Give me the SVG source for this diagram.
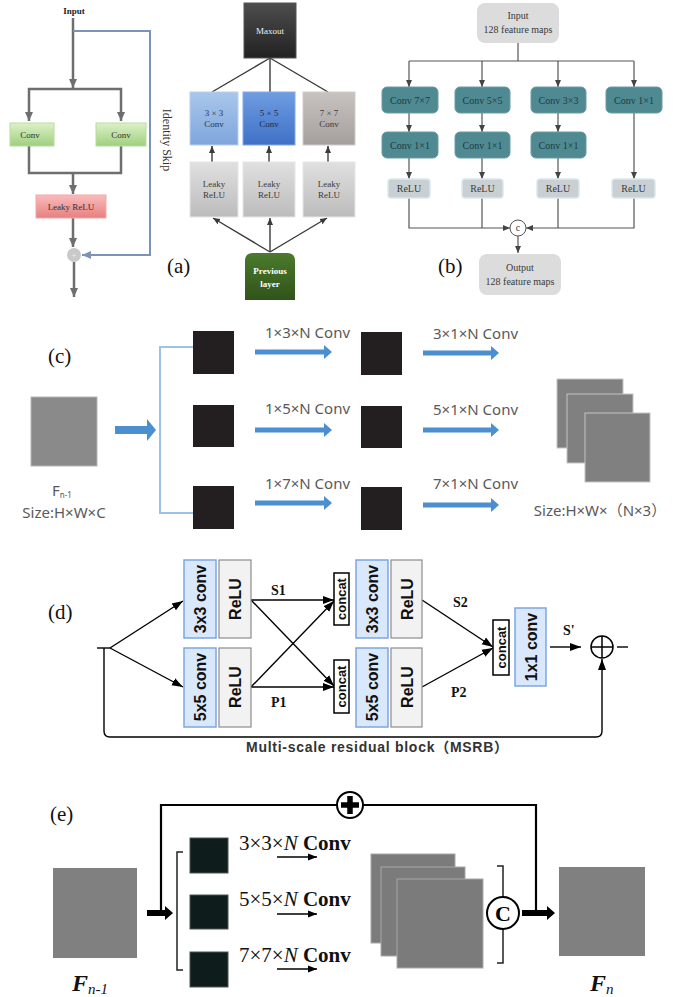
<svg xmlns="http://www.w3.org/2000/svg" width="693" height="997" viewBox="0 0 693 997">
<defs>
<style>
.serif{font-family:"Liberation Serif","Times New Roman",serif}
.sans{font-family:"Liberation Sans",Arial,sans-serif}
.cjk{font-family:"Liberation Sans","Noto Sans CJK SC",sans-serif}
.lbl{font-family:"Liberation Serif","Times New Roman",serif;font-size:21px;fill:#111}
.gl{stroke:#6e6e6e;stroke-width:2.5;fill:none}
.al{stroke:#3a3a3a;stroke-width:1.4;fill:none}
.bl{stroke:#555;stroke-width:1.2;fill:none}
.t9{font-family:"Liberation Serif","Times New Roman",serif;font-size:9px;text-anchor:middle}
.bt{font-family:"Liberation Serif","Times New Roman",serif;font-size:10px;text-anchor:middle;fill:#3a3a3a}
.teal{fill:#4f8a92;stroke:#6a9ca3;stroke-width:1}
.tealt{font-family:"Liberation Serif","Times New Roman",serif;font-size:10px;text-anchor:middle;fill:#1d3a3e}
.relu{fill:#c9d0d3;stroke:#dce8ee;stroke-width:1.5}
.gb{fill:#dcdcdc}
.blk{fill:#231f20}
.ct{font-family:"Noto Sans","Noto Sans CJK SC",sans-serif;font-size:15px;fill:#595959}
.barrow{fill:#4b8fd1}
.cv{fill:#dae8fc;stroke:#7ea6e0;stroke-width:1.5}
.rl{fill:#f2f2f2;stroke:#8c8c8c;stroke-width:1.2}
.cc{fill:#fff;stroke:#000;stroke-width:1.5}
.dt{font-family:"Liberation Sans",Arial,sans-serif;font-weight:bold;font-size:16px;fill:#111;text-anchor:middle}
.dc{font-family:"Liberation Sans",Arial,sans-serif;font-weight:bold;font-size:13px;fill:#111;text-anchor:middle}
.dl{stroke:#000;stroke-width:1.4;fill:none}
.sl{font-family:"Liberation Serif","Times New Roman",serif;font-weight:bold;font-size:14px;fill:#111}
.el{stroke:#000;stroke-width:2.2;fill:none}
.esq{fill:#0f1c1c;stroke:#4a5454;stroke-width:1}
.egr{fill:#7b7b7b;stroke:#a8a8a8;stroke-width:1}
.et{font-family:"Liberation Serif","Times New Roman",serif;font-size:21px;fill:#111}
</style>
<linearGradient id="gGreen" x1="0" y1="0" x2="0" y2="1"><stop offset="0" stop-color="#dcf1c8"/><stop offset="1" stop-color="#9fcf7e"/></linearGradient>
<linearGradient id="gPink" x1="0" y1="0" x2="0" y2="1"><stop offset="0" stop-color="#f9bcbc"/><stop offset="1" stop-color="#e77f7f"/></linearGradient>
<linearGradient id="gDark" x1="0" y1="0" x2="0" y2="1"><stop offset="0" stop-color="#4d4d4d"/><stop offset="1" stop-color="#222"/></linearGradient>
<linearGradient id="gLBlue" x1="0" y1="0" x2="0" y2="1"><stop offset="0" stop-color="#a9c7ec"/><stop offset="1" stop-color="#7ea5dc"/></linearGradient>
<linearGradient id="gMBlue" x1="0" y1="0" x2="0" y2="1"><stop offset="0" stop-color="#6f9de2"/><stop offset="1" stop-color="#3e70c6"/></linearGradient>
<linearGradient id="gG7" x1="0" y1="0" x2="0" y2="1"><stop offset="0" stop-color="#c8c3c1"/><stop offset="1" stop-color="#a49e9c"/></linearGradient>
<linearGradient id="gLk" x1="0" y1="0" x2="0" y2="1"><stop offset="0" stop-color="#e0e0e0"/><stop offset="1" stop-color="#bcbcbc"/></linearGradient>
<linearGradient id="gPrev" x1="0" y1="0" x2="0" y2="1"><stop offset="0" stop-color="#4b7a2d"/><stop offset="1" stop-color="#30531a"/></linearGradient>
<marker id="ag" markerUnits="userSpaceOnUse" markerWidth="10" markerHeight="10" refX="9" refY="5" orient="auto"><path d="M0,1 L9,5 L0,9 z" fill="#6e6e6e"/></marker>
<marker id="abl" markerUnits="userSpaceOnUse" markerWidth="10" markerHeight="10" refX="9" refY="5" orient="auto"><path d="M0,1 L9,5 L0,9 z" fill="#7b93b8"/></marker>
<marker id="aa" markerUnits="userSpaceOnUse" markerWidth="8" markerHeight="8" refX="7" refY="4" orient="auto"><path d="M0,1 L7,4 L0,7 z" fill="#3a3a3a"/></marker>
<marker id="ab" markerUnits="userSpaceOnUse" markerWidth="8" markerHeight="8" refX="7" refY="4" orient="auto"><path d="M0,1 L7,4 L0,7 z" fill="#444"/></marker>
<marker id="ak" markerUnits="userSpaceOnUse" markerWidth="12" markerHeight="10" refX="11" refY="5" orient="auto"><path d="M0,1 L11,5 L0,9 z" fill="#000"/></marker>
<marker id="ae" markerUnits="userSpaceOnUse" markerWidth="10" markerHeight="8" refX="9" refY="4" orient="auto"><path d="M0,0.5 L9,4 L0,7.5 z" fill="#000"/></marker>
</defs>
<rect width="693" height="997" fill="#fff"/>

<!-- ===== Top-left: identity skip block ===== -->
<g id="tl-connectors">
<path class="gl" d="M73,18 V88" marker-end="url(#ag)"/>
<path class="gl" d="M73,89 H29 V121" marker-end="url(#ag)"/>
<path class="gl" d="M73,89 H121 V121" marker-end="url(#ag)"/>
<path class="gl" d="M29,146 V173 H121 V146"/>
<path class="gl" d="M73,173 V194" marker-end="url(#ag)"/>
<path class="gl" d="M73,218 V247" marker-end="url(#ag)"/>
<path class="gl" d="M74,262 V297" marker-end="url(#ag)"/>
<path d="M73,31 H150 V255 H82" stroke="#7b93b8" stroke-width="2" fill="none" marker-end="url(#abl)"/>
</g>
<g id="tl-input"><text class="t9" x="74" y="14" font-weight="bold" fill="#222">Input</text></g>
<g id="tl-conv1"><rect x="10" y="123" width="44" height="23" fill="url(#gGreen)" stroke="#b9dca0"/><text class="t9" x="30" y="138" fill="#333">Conv</text></g>
<g id="tl-conv2"><rect x="96" y="123" width="50" height="23" fill="url(#gGreen)" stroke="#b9dca0"/><text class="t9" x="121" y="138" fill="#333">Conv</text></g>
<g id="tl-leaky"><rect x="36" y="195" width="70" height="23" fill="url(#gPink)" stroke="#f4a8a8"/><text class="t9" x="71" y="210" fill="#333">Leaky ReLU</text></g>
<g id="tl-add"><circle cx="74" cy="255" r="7" fill="#c9c9c9"/><text class="t9" x="74" y="258" fill="#eee" font-size="8">+</text></g>
<g id="tl-skip"><text class="serif" x="163" y="140" font-size="12" fill="#333" text-anchor="middle" transform="rotate(90 163 140)">Identity Skip</text></g>

<!-- ===== (a) ===== -->
<g id="a-connectors">
<path class="al" d="M270,58 L212,92"/>
<path class="al" d="M270,58 V92"/>
<path class="al" d="M270,58 L328,92"/>
<path class="al" d="M212,162 V146" marker-end="url(#aa)"/>
<path class="al" d="M269,162 V146" marker-end="url(#aa)"/>
<path class="al" d="M328,162 V146" marker-end="url(#aa)"/>
<path class="al" d="M270,252 L213,218" marker-end="url(#aa)"/>
<path class="al" d="M270,252 V218" marker-end="url(#aa)"/>
<path class="al" d="M270,252 L327,218" marker-end="url(#aa)"/>
</g>
<g id="a-maxout"><rect x="244" y="3" width="52" height="55" fill="url(#gDark)" stroke="#555"/><text class="t9" x="270" y="34" fill="#eee">Maxout</text></g>
<g id="a-conv3"><rect x="190" y="92" width="48" height="53" fill="url(#gLBlue)" stroke="#b9d0ee"/><text class="t9" x="214" y="116" fill="#2a3550">3 × 3</text><text class="t9" x="214" y="127" fill="#2a3550">Conv</text></g>
<g id="a-conv5"><rect x="243" y="92" width="52" height="53" fill="url(#gMBlue)" stroke="#86aae6"/><text class="t9" x="269" y="116" fill="#1d2a45">5 × 5</text><text class="t9" x="269" y="127" fill="#1d2a45">Conv</text></g>
<g id="a-conv7"><rect x="303" y="92" width="52" height="53" fill="url(#gG7)" stroke="#d0cccb"/><text class="t9" x="329" y="116" fill="#3a3a3a">7 × 7</text><text class="t9" x="329" y="127" fill="#3a3a3a">Conv</text></g>
<g id="a-leaky1"><rect x="190" y="162" width="48" height="55" fill="url(#gLk)" stroke="#e6e6e6"/><text class="t9" x="214" y="187" fill="#3a3a3a">Leaky</text><text class="t9" x="214" y="198" fill="#3a3a3a">ReLU</text></g>
<g id="a-leaky2"><rect x="243" y="162" width="52" height="55" fill="url(#gLk)" stroke="#e6e6e6"/><text class="t9" x="269" y="187" fill="#3a3a3a">Leaky</text><text class="t9" x="269" y="198" fill="#3a3a3a">ReLU</text></g>
<g id="a-leaky3"><rect x="303" y="162" width="52" height="55" fill="url(#gLk)" stroke="#e6e6e6"/><text class="t9" x="329" y="187" fill="#3a3a3a">Leaky</text><text class="t9" x="329" y="198" fill="#3a3a3a">ReLU</text></g>
<g id="a-prev"><path d="M245,300 V261 Q245,253 253,253 H287 Q295,253 295,261 V300 z" fill="url(#gPrev)"/><text class="t9" x="270" y="274" fill="#fff" font-weight="bold">Previous</text><text class="t9" x="270" y="287" fill="#fff" font-weight="bold">layer</text></g>
<text class="lbl" x="167" y="273">(a)</text>

<!-- ===== (b) ===== -->
<g id="b-connectors">
<path class="bl" d="M518,43 V61"/>
<path class="bl" d="M409,61 H634"/>
<path class="bl" d="M409,61 V87" marker-end="url(#ab)"/>
<path class="bl" d="M482,61 V87" marker-end="url(#ab)"/>
<path class="bl" d="M558,61 V87" marker-end="url(#ab)"/>
<path class="bl" d="M634,61 V87" marker-end="url(#ab)"/>
<path class="bl" d="M409,113 V132" marker-end="url(#ab)"/>
<path class="bl" d="M482,113 V132" marker-end="url(#ab)"/>
<path class="bl" d="M558,113 V132" marker-end="url(#ab)"/>
<path class="bl" d="M409,158 V179" marker-end="url(#ab)"/>
<path class="bl" d="M482,158 V179" marker-end="url(#ab)"/>
<path class="bl" d="M558,158 V179" marker-end="url(#ab)"/>
<path class="bl" d="M634,113 V179" marker-end="url(#ab)"/>
<path class="bl" d="M409,198 V228 H510" marker-end="url(#ab)"/>
<path class="bl" d="M482,198 V228"/>
<path class="bl" d="M558,198 V228"/>
<path class="bl" d="M634,198 V228 H526" marker-end="url(#ab)"/>
<path class="bl" d="M518,236 V253" marker-end="url(#ab)"/>
</g>
<g id="b-input"><rect class="gb" x="477" y="3" width="82" height="40" rx="8"/><text class="bt" x="518" y="19">Input</text><text class="bt" x="518" y="33">128 feature maps</text></g>
<g id="b-c77"><rect class="teal" x="382" y="87" width="56" height="26" rx="5"/><text class="tealt" x="410" y="104">Conv 7×7</text></g>
<g id="b-c55"><rect class="teal" x="455" y="87" width="55" height="26" rx="5"/><text class="tealt" x="482.5" y="104">Conv 5×5</text></g>
<g id="b-c33"><rect class="teal" x="531" y="87" width="55" height="26" rx="5"/><text class="tealt" x="558.5" y="104">Conv 3×3</text></g>
<g id="b-c11a"><rect class="teal" x="606" y="87" width="56" height="26" rx="5"/><text class="tealt" x="634" y="104">Conv 1×1</text></g>
<g id="b-c11b"><rect class="teal" x="382" y="132" width="56" height="26" rx="5"/><text class="tealt" x="410" y="149">Conv 1×1</text></g>
<g id="b-c11c"><rect class="teal" x="455" y="132" width="55" height="26" rx="5"/><text class="tealt" x="482.5" y="149">Conv 1×1</text></g>
<g id="b-c11d"><rect class="teal" x="531" y="132" width="55" height="26" rx="5"/><text class="tealt" x="558.5" y="149">Conv 1×1</text></g>
<g id="b-relu1"><rect class="relu" x="388" y="179" width="42" height="19" rx="3"/><text class="bt" x="409" y="192">ReLU</text></g>
<g id="b-relu2"><rect class="relu" x="462" y="179" width="41" height="19" rx="3"/><text class="bt" x="482.5" y="192">ReLU</text></g>
<g id="b-relu3"><rect class="relu" x="537" y="179" width="42" height="19" rx="3"/><text class="bt" x="558" y="192">ReLU</text></g>
<g id="b-relu4"><rect class="relu" x="612" y="179" width="43" height="19" rx="3"/><text class="bt" x="633.5" y="192">ReLU</text></g>
<g id="b-concat"><circle cx="518" cy="228" r="8" fill="#fff" stroke="#555" stroke-width="1"/><text class="bt" x="518" y="231" font-size="9">c</text></g>
<g id="b-output"><rect class="gb" x="479" y="254" width="82" height="41" rx="8"/><text class="bt" x="520" y="271">Output</text><text class="bt" x="520" y="285">128 feature maps</text></g>
<text class="lbl" x="438" y="273">(b)</text>

<!-- ===== (c) ===== -->
<text class="lbl" x="48" y="363">(c)</text>
<g id="c-connectors">
<polygon class="barrow" points="115,426 147,426 147,419 156,430 147,441 147,434 115,434"/>
<path d="M193,347 H160 V513 H193" stroke="#9cc3e6" stroke-width="2" fill="none"/>
<polygon class="barrow" points="255,349.5 324,349.5 324,345 332,352 324,359 324,354.5 255,354.5"/>
<polygon class="barrow" points="255,427.5 324,427.5 324,423 332,430 324,437 324,432.5 255,432.5"/>
<polygon class="barrow" points="255,500.5 324,500.5 324,496 332,503 324,510 324,505.5 255,505.5"/>
<polygon class="barrow" points="423,350.5 491,350.5 491,346 499,353 491,360 491,355.5 423,355.5"/>
<polygon class="barrow" points="423,427.5 491,427.5 491,423 499,430 491,437 491,432.5 423,432.5"/>
<polygon class="barrow" points="423,502.5 491,502.5 491,498 499,505 491,512 491,507.5 423,507.5"/>
</g>
<g id="c-fin"><rect x="31" y="397" width="66" height="69" fill="#8a8a8a" stroke="#b5b5b5"/><text class="ct" x="62" y="496" text-anchor="middle" font-size="14">F<tspan font-size="8" dy="2">n-1</tspan></text><text class="ct" x="64" y="518" text-anchor="middle">Size:H×W×C</text></g>
<g id="c-s11"><rect class="blk" x="193" y="331" width="41" height="43"/></g>
<g id="c-s12"><rect class="blk" x="193" y="405" width="41" height="42"/></g>
<g id="c-s13"><rect class="blk" x="193" y="486" width="41" height="43"/></g>
<g id="c-s21"><rect class="blk" x="361" y="332" width="41" height="43"/></g>
<g id="c-s22"><rect class="blk" x="361" y="406" width="41" height="42"/></g>
<g id="c-s23"><rect class="blk" x="361" y="487" width="41" height="43"/></g>
<g id="c-labels">
<text class="ct" x="265" y="338">1×3×N Conv</text>
<text class="ct" x="265" y="414">1×5×N Conv</text>
<text class="ct" x="265" y="489">1×7×N Conv</text>
<text class="ct" x="433" y="339">3×1×N Conv</text>
<text class="ct" x="433" y="415">5×1×N Conv</text>
<text class="ct" x="433" y="489">7×1×N Conv</text>
</g>
<g id="c-fout">
<rect x="557" y="379" width="66" height="69" fill="#808080" stroke="#c4c4c4"/>
<rect x="567" y="394" width="66" height="69" fill="#808080" stroke="#c4c4c4"/>
<rect x="585" y="413" width="65" height="69" fill="#808080" stroke="#c4c4c4"/>
<text class="ct" x="600" y="516" text-anchor="middle">Size:H×W×（N×3）</text>
</g>

<!-- ===== (d) ===== -->
<text class="lbl" x="48" y="619">(d)</text>
<g id="d-connectors">
<path class="dl" d="M97,648 H110"/>
<path class="dl" d="M110,648 L183,601" marker-end="url(#ak)"/>
<path class="dl" d="M110,648 L183,687" marker-end="url(#ak)"/>
<path class="dl" d="M104,648 V731 Q104,737 110,737 H596 Q602,737 602,731 V659" marker-end="url(#ak)"/>
<path class="dl" d="M251,600 H334" marker-end="url(#ak)"/>
<path class="dl" d="M251,600 L334,686" marker-end="url(#ak)"/>
<path class="dl" d="M251,687 H334" marker-end="url(#ak)"/>
<path class="dl" d="M251,687 L334,601" marker-end="url(#ak)"/>
<path class="dl" d="M422,600 L493,647" marker-end="url(#ak)"/>
<path class="dl" d="M422,687 L493,648" marker-end="url(#ak)"/>
<path class="dl" d="M550,647 H581" marker-end="url(#ak)"/>
<path class="dl" d="M617,647 H628"/>
</g>
<g id="d-c33a"><rect class="cv" x="184" y="560" width="32" height="78"/><text class="dt" transform="translate(200,599) rotate(-90)" dy="6">3x3 conv</text></g>
<g id="d-relu1"><rect class="rl" x="219" y="560" width="32" height="78"/><text class="dt" transform="translate(235,599) rotate(-90)" dy="6">ReLU</text></g>
<g id="d-c55a"><rect class="cv" x="184" y="648" width="32" height="79"/><text class="dt" transform="translate(200,687) rotate(-90)" dy="6">5x5 conv</text></g>
<g id="d-relu3"><rect class="rl" x="219" y="648" width="32" height="79"/><text class="dt" transform="translate(235,687) rotate(-90)" dy="6">ReLU</text></g>
<g id="d-cat1"><rect class="cc" x="334" y="573" width="15" height="52"/><text class="dc" transform="translate(341.5,599) rotate(-90)" dy="4.5">concat</text></g>
<g id="d-c33b"><rect class="cv" x="356" y="560" width="32" height="78"/><text class="dt" transform="translate(372,599) rotate(-90)" dy="6">3x3 conv</text></g>
<g id="d-relu2"><rect class="rl" x="391" y="560" width="31" height="78"/><text class="dt" transform="translate(406.5,599) rotate(-90)" dy="6">ReLU</text></g>
<g id="d-cat2"><rect class="cc" x="334" y="660" width="15" height="53"/><text class="dc" transform="translate(341.5,686.5) rotate(-90)" dy="4.5">concat</text></g>
<g id="d-c55b"><rect class="cv" x="356" y="648" width="32" height="79"/><text class="dt" transform="translate(372,687) rotate(-90)" dy="6">5x5 conv</text></g>
<g id="d-relu4"><rect class="rl" x="391" y="648" width="31" height="79"/><text class="dt" transform="translate(406.5,687) rotate(-90)" dy="6">ReLU</text></g>
<g id="d-cat3"><rect class="cc" x="493" y="620" width="16" height="55"/><text class="dc" transform="translate(501,647.5) rotate(-90)" dy="4.5">concat</text></g>
<g id="d-c11"><rect class="cv" x="515" y="608" width="31" height="78"/><text class="dt" transform="translate(530.5,647) rotate(-90)" dy="6">1x1 conv</text></g>
<g id="d-add"><circle cx="602" cy="647" r="11" fill="#fff" stroke="#000" stroke-width="1.5"/><path d="M591,647 H613 M602,636 V658" stroke="#000" stroke-width="1.5"/></g>
<g id="d-texts">
<text class="sl" x="271" y="595">S1</text>
<text class="sl" x="271" y="707">P1</text>
<text class="sl" x="453" y="607">S2</text>
<text class="sl" x="451" y="697">P2</text>
<text class="sl" x="563" y="635">S'</text>
<text class="cjk" x="377" y="752" font-size="14" font-weight="bold" fill="#333" text-anchor="middle" textLength="262">Multi-scale residual block（MSRB）</text>
</g>

<!-- ===== (e) ===== -->
<text class="lbl" x="50" y="821">(e)</text>
<g id="e-connectors">
<path class="el" d="M161,913 V805 H536 V913"/>
<polygon points="147,910 165,910 165,906 173,913 165,920 165,916 147,916" fill="#000"/>
<path d="M183,852 H177 V970 H183" stroke="#222" stroke-width="1.5" fill="none"/>
<path d="M497,866 H503 V963 H497" stroke="#222" stroke-width="1.5" fill="none"/>
<path d="M277,857 H317" stroke="#000" stroke-width="1.5" marker-end="url(#ae)"/>
<path d="M277,914 H317" stroke="#000" stroke-width="1.5" marker-end="url(#ae)"/>
<path d="M277,969 H317" stroke="#000" stroke-width="1.5" marker-end="url(#ae)"/>
<polygon points="522,910 547,910 547,906 555,913 547,920 547,916 522,916" fill="#000"/>
</g>
<g id="e-add"><circle cx="350" cy="805" r="13" fill="#fff" stroke="#000" stroke-width="2"/><path d="M341,805 H359 M350,796 V814" stroke="#000" stroke-width="5.5"/></g>
<g id="e-fin"><rect x="53" y="868" width="84" height="90" fill="#808080"/><text class="serif" x="72" y="991" font-size="24" font-weight="bold" font-style="italic" fill="#111">F<tspan font-size="15" font-weight="normal" dy="3">n-1</tspan></text></g>
<g id="e-s1"><rect class="esq" x="190" y="838" width="38" height="35"/></g>
<g id="e-s2"><rect class="esq" x="190" y="895" width="38" height="34"/></g>
<g id="e-s3"><rect class="esq" x="190" y="952" width="38" height="35"/></g>
<g id="e-labels">
<text class="et" x="239" y="850">3×3×<tspan font-style="italic">N</tspan> <tspan font-weight="bold">Conv</tspan></text>
<text class="et" x="239" y="906">5×5×<tspan font-style="italic">N</tspan> <tspan font-weight="bold">Conv</tspan></text>
<text class="et" x="239" y="962">7×7×<tspan font-style="italic">N</tspan> <tspan font-weight="bold">Conv</tspan></text>
</g>
<g id="e-stack">
<rect class="egr" x="371" y="854" width="84" height="89"/>
<rect class="egr" x="381" y="867" width="84" height="89"/>
<rect class="egr" x="397" y="879" width="86" height="89"/>
</g>
<g id="e-concat"><circle cx="503" cy="913" r="16" fill="#fff" stroke="#000" stroke-width="2"/><text class="serif" x="503" y="921" font-size="22" font-weight="bold" text-anchor="middle" fill="#000">C</text></g>
<g id="e-fout"><rect x="559" y="867" width="86" height="89" fill="#808080"/><text class="serif" x="590" y="991" font-size="24" font-weight="bold" font-style="italic" fill="#111">F<tspan font-size="15" font-weight="normal" dy="3">n</tspan></text></g>
</svg>
